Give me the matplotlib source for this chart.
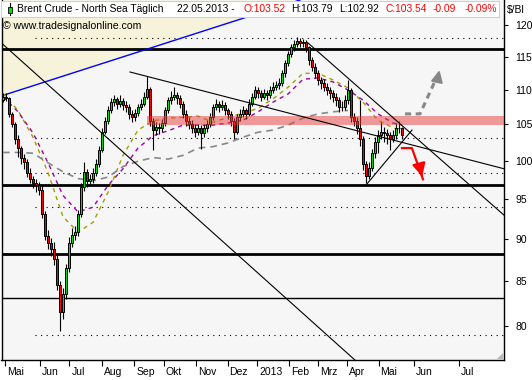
import matplotlib
matplotlib.use('Agg')
import numpy as np
import matplotlib.pyplot as plt
from matplotlib.patches import Rectangle, Polygon
from matplotlib.transforms import ScaledTranslation
from matplotlib.ticker import NullLocator

plt.rcParams['font.family'] = ['Liberation Sans', 'DejaVu Sans']

# --- data (one candle per ~2 trading days, May 2012 - 22.05.2013) ---
first_open = 108.5
closes = [109.0, 108.8, 106.5, 105.0, 103.0, 101.7, 100.4, 99.8, 98.4, 97.6,
          97.0, 96.7, 96.1, 93.0, 90.3, 89.5, 88.8, 87.5, 84.5, 81.5,
          83.5, 86.5, 89.5, 90.5, 90.8, 93.0, 96.5, 98.5, 97.3, 97.5,
          98.4, 99.5, 101.5, 104.0, 105.5, 107.0, 108.2, 108.6, 108.0, 108.4,
          107.8, 107.5, 106.5, 106.0, 106.6, 107.5, 108.0, 109.0, 110.2, 105.5,
          104.2, 104.6, 104.5, 105.2, 107.0, 108.5, 109.0, 109.2, 108.8, 108.0,
          106.5, 105.5, 105.0, 104.5, 104.0, 104.5, 103.8, 104.5, 105.0, 106.0,
          107.5, 108.0, 107.5, 107.8, 107.0, 106.5, 105.5, 104.0, 106.0, 106.5,
          107.0, 106.5, 108.0, 109.0, 110.0, 109.5, 109.0, 109.5, 109.2, 110.0,
          110.5, 110.8, 111.0, 112.5, 114.0, 115.5, 116.5, 117.0, 117.5, 117.2,
          117.3, 116.5, 114.5, 113.5, 112.5, 111.5, 111.0, 110.5, 110.0, 109.5,
          109.0, 108.5, 107.5, 107.5, 108.5, 110.0, 106.0, 105.5, 104.5, 103.0,
          99.5, 98.0, 99.0, 101.0, 102.5, 103.5, 104.0, 103.8, 103.5, 103.0,
          103.5, 104.5, 104.5, 103.5]
highs = [109.5, 109.6, 109.0, 106.8, 105.3, 103.5, 102.0, 100.9, 100.2, 99.0,
         98.0, 97.6, 97.2, 96.6, 93.4, 91.0, 90.1, 89.6, 88.0, 85.0,
         84.2, 87.0, 90.2, 91.3, 91.5, 93.6, 97.0, 99.8, 98.9, 98.2,
         99.0, 100.2, 102.0, 104.5, 106.0, 107.6, 108.8, 109.3, 109.0, 109.2,
         108.8, 108.3, 107.9, 107.0, 107.2, 108.0, 108.7, 109.7, 112.1, 110.5,
         105.9, 105.3, 105.2, 105.8, 107.5, 109.0, 109.8, 110.5, 109.7, 109.2,
         108.4, 107.0, 106.0, 105.6, 105.0, 105.1, 104.9, 105.0, 105.6, 106.6,
         108.0, 108.6, 108.4, 108.5, 108.2, 107.4, 106.9, 105.9, 106.5, 107.2,
         107.7, 107.4, 108.6, 109.6, 110.6, 110.5, 110.0, 110.2, 110.0, 110.6,
         111.2, 111.4, 111.8, 113.0, 114.6, 116.0, 117.0, 117.6, 118.2, 118.0,
         117.9, 117.6, 116.8, 115.0, 114.0, 113.0, 112.0, 111.6, 111.0, 110.5,
         110.0, 109.6, 109.0, 108.3, 109.2, 111.5, 110.3, 106.6, 106.0, 108.5,
         103.4, 100.0, 99.8, 101.6, 103.2, 104.2, 105.3, 104.6, 104.3, 104.0,
         104.2, 105.2, 105.5, 104.6]
lows = [108.2, 108.3, 106.0, 104.6, 102.2, 100.5, 99.6, 98.9, 97.8, 97.0,
        96.3, 95.9, 95.5, 92.5, 89.8, 88.7, 87.9, 86.9, 84.0, 79.5,
        80.8, 83.0, 86.0, 89.0, 89.8, 90.3, 92.7, 96.0, 96.5, 96.6,
        97.0, 98.0, 99.2, 101.2, 103.6, 105.0, 106.6, 107.7, 107.2, 107.5,
        107.0, 106.8, 105.8, 105.3, 105.5, 106.2, 107.0, 107.6, 108.6, 104.8,
        101.5, 103.5, 103.7, 104.0, 104.8, 106.6, 108.0, 108.5, 108.0, 107.3,
        105.9, 104.8, 104.3, 103.8, 103.2, 103.5, 101.6, 103.2, 104.0, 104.6,
        105.6, 107.0, 106.8, 107.0, 106.3, 105.8, 104.8, 103.0, 103.6, 105.5,
        106.0, 105.8, 106.2, 107.6, 108.7, 108.8, 108.3, 108.6, 108.5, 108.8,
        109.6, 110.0, 110.2, 110.6, 112.0, 113.6, 115.0, 116.0, 116.6, 116.6,
        116.5, 115.8, 113.8, 112.8, 111.8, 110.8, 110.2, 109.8, 109.2, 108.6,
        108.2, 107.6, 106.8, 106.9, 107.0, 108.0, 105.4, 104.8, 103.6, 102.0,
        98.8, 97.0, 97.6, 98.6, 100.4, 101.0, 103.0, 102.6, 102.3, 101.5,
        102.6, 103.0, 103.8, 102.9]

# moving averages, sampled every 5 candles
ma_x = [0, 5, 10, 15, 20, 25, 30, 35, 40, 45, 50, 55, 60, 65, 70, 75, 80, 85,
        90, 95, 100, 105, 110, 115, 120, 125, 130, 133]
ma_fast = [109.5, 107.0, 103.2, 98.4, 92.7, 90.8, 92.0, 95.8, 100.7, 104.2,
           105.5, 105.9, 106.0, 106.2, 105.3, 106.0, 106.6, 107.3, 108.7, 110.4,
           112.5, 112.5, 111.5, 110.3, 108.2, 105.6, 104.5, 104.2]
ma_mid = [109.0, 106.8, 103.8, 99.7, 95.4, 93.3, 93.9, 96.7, 98.9, 101.7,
          103.4, 104.1, 104.9, 104.9, 104.9, 105.2, 105.6, 106.8, 108.2, 109.4,
          111.6, 111.8, 111.2, 110.0, 108.5, 106.5, 105.2, 104.9]
ma_slow = [101.1, 101.1, 101.0, 99.7, 98.5, 97.6, 97.3, 97.8, 99.2, 99.9,
           100.4, 100.2, 100.7, 101.7, 101.9, 102.4, 103.2, 103.9, 104.2, 104.9,
           105.9, 106.5, 106.8, 107.0]

month_pos = [0.67, 12.33, 22.13, 32.87, 43.8, 53.53, 64.23, 74.87, 84.8, 95.3,
             105.0, 114.67, 125.2, 137.0, 152.0]
month_labels = ['Mai', 'Jun', 'Jul', 'Aug', 'Sep', 'Okt', 'Nov', 'Dez', '2013',
                'Feb', 'Mrz', 'Apr', 'Mai', 'Jun', 'Jul']
price_ticks = [80, 85, 90, 95, 100, 105, 110, 115, 120]

thick_levels = [116.25, 96.8, 88.2]
thin_levels = [83.1]
dotted_levels = [118.0, 103.1, 98.4, 93.9, 79.0]
zone = (104.9, 106.2)
zone_start = 48

blue_line = [(-0.67, 109.1), (99.0, 124.2)]
trend_lines = [[(-1.0, 117.4), (117.3, 76.4)],
               [(42.33, 112.7), (167.0, 98.9)],
               [(101.67, 117.2), (167.0, 92.9)],
               [(121.33, 96.9), (136.33, 104.2)]]
up_arrow = [(134.0, 106.5), (139.0, 106.5), (145.7, 113.4)]
down_arrow = [(133.0, 101.7), (136.3, 101.7), (140.0, 97.5)]

W, H = 532, 380
fig = plt.figure(figsize=(W / 100, H / 100), dpi=100)
ax = fig.add_axes([1.5 / W, 20 / H, 502.5 / W, 360 / H])
ax.set_facecolor('#f6f6f6')
ax.set_yscale('log')
ax.set_xlim(-0.5, 167)
ax.set_ylim(76.4, 124.2)

# shaded area above the blue line
(bx0, by0), (bx1, by1) = blue_line
ax.fill_between([bx0, bx1], [by0, by1], [124.2, 124.2], color='#f6f3da', lw=0, zorder=0)
ax.plot([bx0, bx1], [by0, by1], color='#0000ff', lw=1, zorder=3)

for lv in thick_levels:
    ax.axhline(lv, color='black', lw=2, zorder=2)
for lv in thin_levels:
    ax.axhline(lv, color='black', lw=1, zorder=2)
for lv in dotted_levels:
    ax.hlines(lv, 10.7, 167, color='black', lw=0.8, linestyles=(0, (1, 4)), zorder=2)

ax.plot(ma_x, ma_fast, color='#a0a000', lw=1, dashes=(3, 3), zorder=3)
ax.plot(ma_x, ma_mid, color='#a000a0', lw=1, dashes=(3, 3), zorder=3)
ax.plot(ma_x[:len(ma_slow)], ma_slow, color='#888888', lw=1.2, dashes=(4, 3), zorder=3)

# candles
x = np.arange(len(closes))
c = np.array(closes)
o = np.array([first_open] + closes[:-1])
colors = np.where(c >= o, '#00e000', '#ff0000')
ax.vlines(x, lows, highs, color='black', lw=0.8, zorder=4)
ax.bar(x, np.maximum(np.abs(c - o), 0.05), bottom=np.minimum(o, c), width=0.95,
       color=colors, edgecolor='black', linewidth=0.7, zorder=5)

ax.fill_between([zone_start, 167], zone[0], zone[1], color='#e83c3c', alpha=0.5, lw=0, zorder=6)

for (x0, y0), (x1, y1) in trend_lines:
    ax.plot([x0, x1], [y0, y1], color='black', lw=0.8, zorder=7)

ux, uy = zip(*up_arrow)
ax.plot(ux[:-1] + (ux[-1] - 0.4,), uy[:-1] + (uy[-1] - 0.8,), color='#888888', lw=2.2,
        dashes=(2, 1.5), zorder=8)
ax.annotate('', xy=up_arrow[-1], xytext=(ux[-1] - 0.9, uy[-1] - 1.9),
            arrowprops=dict(arrowstyle='-|>,head_width=0.35,head_length=0.7',
                            color='#888888', lw=1.5), zorder=8)
dx, dy = zip(*down_arrow)
ax.plot(dx, dy, color='#ff0000', lw=1.6, zorder=8)
ax.annotate('', xy=down_arrow[-1], xytext=(dx[-1] - 0.6, dy[-1] + 0.9),
            arrowprops=dict(arrowstyle='-|>,head_width=0.4,head_length=0.8',
                            color='#ff0000', lw=1.5), zorder=8)

# axes styling
for side in ['left', 'bottom', 'right']:
    ax.spines[side].set_linewidth(1)
ax.spines['top'].set_visible(False)
ax.yaxis.tick_right()
ax.set_yticks(price_ticks)
ax.set_yticklabels([str(t) for t in price_ticks])
ax.yaxis.set_minor_locator(NullLocator())
ax.tick_params(axis='y', direction='out', length=3, width=0.8, pad=5, labelsize=7.5)
ax.set_xticks(month_pos)
ax.set_xticklabels(month_labels, ha='left')
ax.tick_params(axis='x', direction='out', length=4, width=0.8, pad=1, labelsize=7.5)
for lbl in ax.get_xticklabels():
    lbl.set_transform(lbl.get_transform() + ScaledTranslation(0.02, 0, fig.dpi_scale_trans))


def fx(px):
    return px / W


def fy(py):
    return 1 - py / H


# title box
fig.patches.append(Rectangle((fx(1), fy(17)), fx(499) - fx(1), fy(1) - fy(17),
                             transform=fig.transFigure, facecolor='white',
                             edgecolor='#d0d0d0', lw=0.8, zorder=1))
fig.lines.append(plt.Line2D([fx(10), fx(10)], [fy(3), fy(15)], transform=fig.transFigure,
                            color='black', lw=0.8, zorder=2))
fig.patches.append(Rectangle((fx(8), fy(13)), fx(4), fy(7) - fy(13), transform=fig.transFigure,
                             facecolor='#00e000', edgecolor='black', lw=0.6, zorder=3))
title_parts = [(17, 'Brent Crude - North Sea Täglich', 'black'),
               (177, '22.05.2013 -', 'black'),
               (244, 'O:103.52', '#ff0000'),
               (291, 'H:103.79', 'black'),
               (339, 'L:102.92', 'black'),
               (386, 'C:103.54', '#ff0000'),
               (433, '-0.09', '#ff0000'),
               (465, '-0.09%', '#ff0000')]
for px, s, col in title_parts:
    fig.text(fx(px), fy(9.5), s, color=col, fontsize=7.4, va='center', ha='left', zorder=4)
fig.text(fx(3), fy(26), '© www.tradesignalonline.com', fontsize=7.6, va='center', ha='left')
fig.text(fx(507), fy(10), '$/Bl', fontsize=7.4, va='center', ha='left')
fig.patches.append(Polygon([(fx(497), fy(359)), (fx(503), fy(353)), (fx(503), fy(359))],
                           closed=True, transform=fig.transFigure, facecolor='#b8b8b8',
                           edgecolor='none', zorder=2))

fig.savefig('out.png', dpi=100)
